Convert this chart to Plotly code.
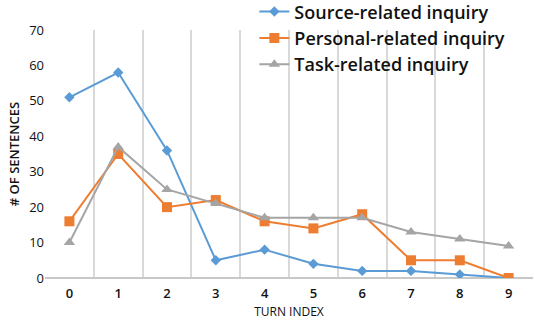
import plotly.graph_objects as go

turns = [0, 1, 2, 3, 4, 5, 6, 7, 8, 9]
source = [51, 58, 36, 5, 8, 4, 2, 2, 1, 0]
personal = [16, 35, 20, 22, 16, 14, 18, 5, 5, 0]
task = [10, 37, 25, 21, 17, 17, 17, 13, 11, 9]

fig = go.Figure()
fig.add_trace(go.Scatter(x=turns, y=source, mode='lines+markers', name='Source-related inquiry',
                         line=dict(color='#5B9BD5', width=2),
                         marker=dict(symbol='diamond', size=8, color='#5B9BD5')))
fig.add_trace(go.Scatter(x=turns, y=personal, mode='lines+markers', name='Personal-related inquiry',
                         line=dict(color='#ED7D31', width=2),
                         marker=dict(symbol='square', size=10, color='#ED7D31')))
fig.add_trace(go.Scatter(x=turns, y=task, mode='lines+markers', name='Task-related inquiry',
                         line=dict(color='#A5A5A5', width=2),
                         marker=dict(symbol='triangle-up', size=10, color='#A5A5A5')))

font = "Open Sans"
fig.update_layout(
    width=534, height=320,
    margin=dict(l=45, r=1, t=30, b=42, autoexpand=False),
    plot_bgcolor='white', paper_bgcolor='white',
    font=dict(family=font, color='#111111'),
    legend=dict(x=0.429, y=1.148, xanchor='left', yanchor='top',
                bgcolor='rgba(0,0,0,0)', font=dict(size=18, color='#111111', weight=600),
                tracegroupgap=0, itemwidth=30),
    xaxis=dict(range=[-0.5, 9.5], tickvals=turns, showgrid=False, zeroline=False,
               tickfont=dict(size=13, weight=600), ticks='', automargin=False,
               ticklabelstandoff=6,
               minor=dict(tickvals=[i - 0.5 for i in range(11)], showgrid=True,
                          gridcolor='#d9d9d9', gridwidth=1.5, ticks=''),
               title=dict(text='TURN INDEX', font=dict(size=12), standoff=9)),
    yaxis=dict(range=[0, 70], dtick=10, showgrid=False, zeroline=True,
               zerolinecolor='#c8c8c8', zerolinewidth=2, automargin=False,
               tickfont=dict(size=13), ticks='',
               title=dict(text='# OF SENTENCES', font=dict(size=13, weight=600), standoff=6)),
)

fig.write_html("out.html", config={'displayModeBar': False},
               post_script="document.body.style.margin='0';")
